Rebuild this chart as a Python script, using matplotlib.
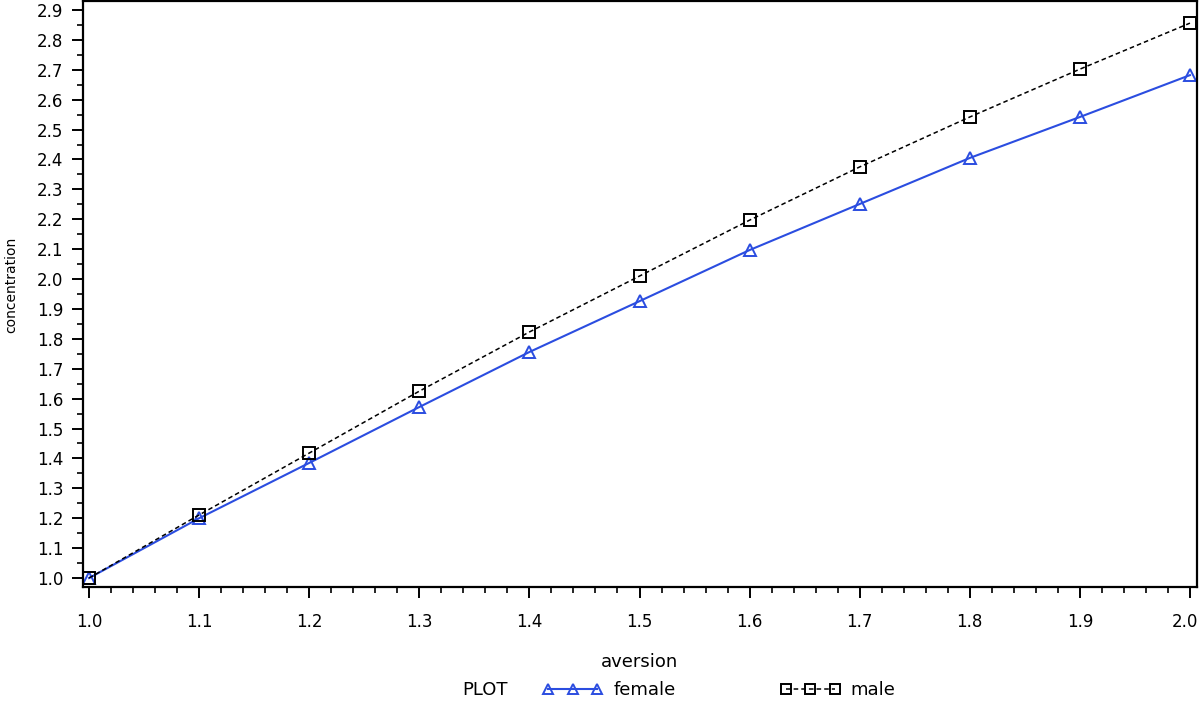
import matplotlib.pyplot as plt
from matplotlib.ticker import MultipleLocator, FuncFormatter, FormatStrFormatter

# values
aversion = [1.0, 1.1, 1.2, 1.3, 1.4, 1.5, 1.6, 1.7, 1.8, 1.9, 2.0]
female = [1.0, 1.2, 1.385, 1.572, 1.756, 1.926, 2.097, 2.251, 2.405, 2.542, 2.682]
male = [1.0, 1.211, 1.418, 1.625, 1.823, 2.010, 2.197, 2.375, 2.542, 2.702, 2.856]

plt.rcParams['font.family'] = ['DejaVu Sans']

W, H = 1200, 706
fig = plt.figure(figsize=(W / 100, H / 100), dpi=100)
# axes box in pixels: left 83, right 1197, top 1, bottom 587
ax = fig.add_axes([83 / W, 1 - 587 / H, (1197 - 83) / W, (587 - 1) / H])

ax.plot(aversion, female, color='#2b4de0', lw=1.5, marker='^', ms=9,
        mfc='none', mec='#2b4de0', mew=1.4, label='female')
ax.plot(aversion, male, color='black', lw=1.1, ls=(0, (3, 2)), marker='s',
        ms=9, mfc='none', mec='black', mew=1.4, label='male')

ax.set_xlim(0.9945, 2.0064)
ax.set_ylim(0.97, 2.93)

x_last = aversion[-1]
ax.xaxis.set_major_locator(MultipleLocator(0.1))
ax.xaxis.set_minor_locator(MultipleLocator(0.02))
ax.yaxis.set_major_locator(MultipleLocator(0.1))
ax.yaxis.set_minor_locator(MultipleLocator(0.05))
# the last x label is drawn separately below so it is not cut at the edge
ax.xaxis.set_major_formatter(
    FuncFormatter(lambda v, p: '' if v > x_last - 0.01 else f'{v:.1f}'))
ax.yaxis.set_major_formatter(FormatStrFormatter('%.1f'))

ax.tick_params(which='major', direction='out', length=8, width=1.4,
               labelsize=12, top=False, right=False)
ax.tick_params(which='minor', direction='out', length=4.5, width=1.2,
               top=False, right=False)
ax.tick_params(axis='x', pad=11)
ax.tick_params(axis='y', pad=6)

ax.annotate(f'{x_last:.1f}', xy=(x_last, 0), xycoords=('data', 'axes fraction'),
            xytext=(-3.5, -19), textcoords='offset points',
            ha='center', va='top', fontsize=12)

for s in ax.spines.values():
    s.set_linewidth(1.6)

ax.set_xlabel('aversion', fontsize=13)
ax.xaxis.set_label_coords(0.5, -0.112)
ax.set_ylabel('concentration', fontsize=10)
ax.yaxis.set_label_coords(-0.058, 0.515)

fig.text(462 / W, 1 - 690 / H, 'PLOT', fontsize=13, ha='left', va='center')
fig.legend(loc='center left', bbox_to_anchor=(543 / W, 1 - 690 / H),
           ncol=2, frameon=False, numpoints=3, markerscale=0.75,
           handlelength=3.3, handletextpad=0.6, columnspacing=5.8,
           fontsize=13, borderpad=0, borderaxespad=0)

fig.savefig('out.png', dpi=100)
